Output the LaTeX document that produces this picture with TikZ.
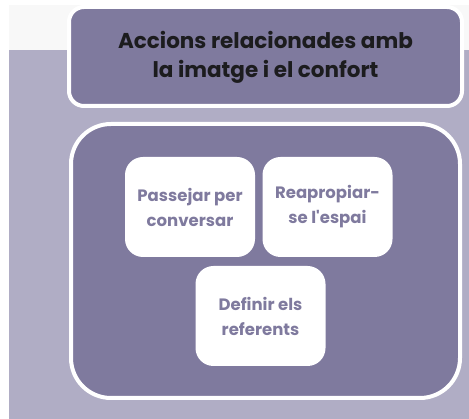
\documentclass[tikz,border=0pt]{standalone}
\usepackage{fontspec}
\setmainfont{Poppins}[BoldFont={Poppins Bold},Ligatures=TeXOff]
\definecolor{bglav}{RGB}{176,173,197}
\definecolor{boxpurple}{RGB}{127,122,158}
\definecolor{topgray}{RGB}{248,248,248}
\definecolor{titletext}{RGB}{28,28,30}
\tikzset{
  panel/.style={draw=white, line width=4pt, fill=boxpurple},
  itembox/.style={fill=white, rounded corners=18pt, minimum width=130pt, minimum height=100pt,
    align=center, text=boxpurple, font=\fontsize{16.5}{25}\selectfont\bfseries, inner sep=0pt},
}
\begin{document}
\begin{tikzpicture}[x=1pt,y=-1pt]
\useasboundingbox (0,0) rectangle (469,419);
\fill[white] (0,0) rectangle (469,419);
\fill[topgray] (9,5) rectangle (469,50);
\fill[bglav] (9,50) rectangle (469,419);
% title panel
\draw[panel, rounded corners=15pt] (69,7) rectangle (462,106);
\node[align=center, text=titletext, font=\fontsize{21.5}{29}\selectfont\bfseries] (title) at (265.5,57) {Accions relacionades amb\\la imatge i el confort};
% main panel
\draw[panel, rounded corners=40pt] (71,124) rectangle (460,398);
\node[itembox] (a) at (190,207) {Passejar per\\conversar};
\node[itembox] (b) at (327.5,207) {Reapropiar-\\se l'espai};
\node[itembox] (c) at (260.5,316) {Definir els\\referents};
\end{tikzpicture}
\end{document}
